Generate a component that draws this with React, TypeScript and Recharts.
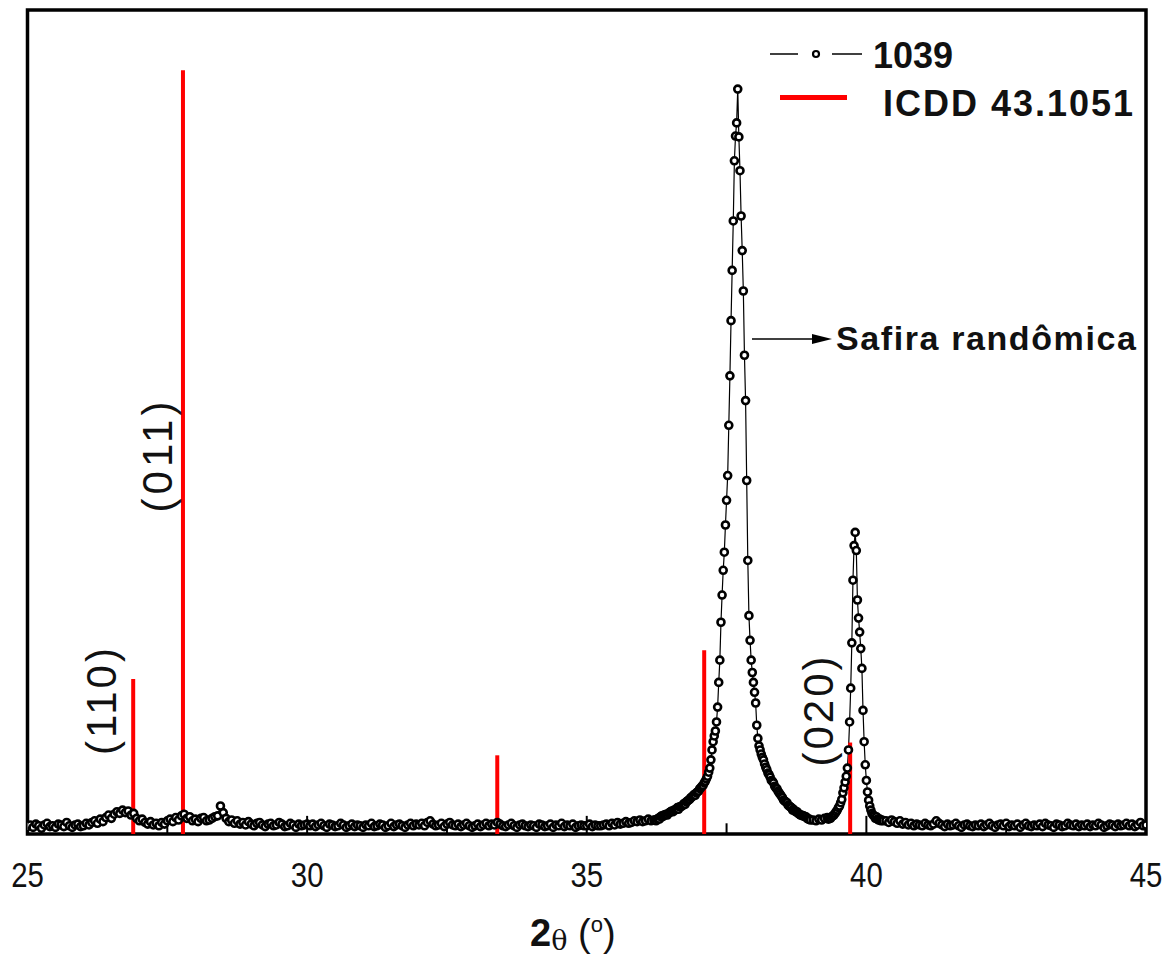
import React from 'react';
import { ComposedChart, Line, XAxis, YAxis, ReferenceLine, ReferenceArea } from 'recharts';

// ---- Sample 1039 diffractogram (intensity in arbitrary units, 0-100) ----
// Segment A: 2θ 25.00 → 36.20, step 0.05
const segAStart = 25.0;
const segAStep = 0.05;
const segA = [
  0.9, 1.1, 0.8, 1.2, 1.0, 0.7, 1.1, 1.3, 0.9, 1.0, 0.8, 1.2, 1.1, 0.9, 1.4, 1.0, 0.8, 1.1, 1.2, 0.9,
  1.0, 1.3, 1.1, 1.4, 1.6, 1.3, 1.8, 1.5, 2.0, 2.3, 1.9, 2.4, 2.7, 2.5, 2.9, 2.6, 2.8, 2.3, 2.5, 1.9,
  1.6, 1.8, 1.4, 1.2, 1.5, 1.1, 1.3, 1.0, 1.4, 1.2, 1.6, 1.8, 1.5, 2.0, 1.7, 2.2, 2.4, 1.9, 2.1, 1.6,
  1.8, 1.5, 1.9, 2.0, 1.6, 1.7, 1.9, 2.1, 2.2, 3.4, 2.6, 1.9, 1.5, 1.7, 1.3, 1.6, 1.2, 1.4, 1.1, 1.5,
  1.2, 1.0, 1.3, 1.4, 1.1, 0.9, 1.2, 1.3, 1.0, 1.1, 1.4, 1.2, 0.9, 1.0, 1.3, 1.1, 0.8, 1.2, 1.0, 1.1,
  1.2, 1.0, 1.2, 0.9, 1.1, 1.3, 1.0, 0.8, 1.2, 1.1, 0.9, 1.0, 1.3, 1.1, 0.8, 1.0, 1.2, 0.9, 1.1, 1.0,
  0.8, 1.1, 1.0, 1.3, 0.9, 1.0, 1.2, 1.1, 0.8, 1.0, 1.3, 0.9, 1.1, 1.2, 1.0, 0.8, 1.1, 1.3, 1.0, 1.2,
  1.1, 1.3, 1.0, 1.4, 1.6, 1.2, 1.0, 1.1, 1.3, 0.9, 1.2, 1.4, 1.1, 1.0, 1.2, 0.9, 1.1, 1.3, 1.0, 0.8,
  1.0, 1.2, 0.9, 1.1, 1.3, 1.0, 1.2, 1.1, 1.4, 1.2, 1.0, 0.9, 1.1, 1.3, 1.0, 0.8, 1.1, 1.2, 1.0, 0.9,
  1.1, 1.0, 0.8, 1.2, 1.1, 0.9, 1.0, 1.2, 0.8, 1.1, 1.0, 1.3, 0.9, 1.1, 1.0, 1.2, 0.8, 1.0, 1.1, 1.0,
  1.0, 1.2, 0.9, 1.1, 1.0, 1.0, 1.1, 1.2, 1.0, 1.3, 1.1, 1.4, 1.2, 1.3, 1.5, 1.3, 1.4, 1.6, 1.5, 1.7,
  1.5, 1.6, 1.8, 1.6, 1.7,
];

// Segment B: 2θ 36.22 → 39.00, step 0.02 (main peak)
const segBStart = 36.22;
const segBStep = 0.02;
const segB = [
  1.7, 1.6, 1.8, 1.9, 1.8, 2.1, 2.2, 2.1, 2.3, 2.3, 2.4, 2.3, 2.5, 2.6, 2.7, 2.8, 2.7, 2.9, 2.9, 3.0,
  3.2, 3.0, 3.3, 3.3, 3.4, 3.5, 3.7, 3.6, 3.9, 4.0, 4.1, 4.2, 4.4, 4.5, 4.6, 4.8, 4.7, 5.0, 5.1, 5.2,
  5.5, 5.6, 5.8, 5.9, 6.2, 6.4, 6.7, 7.0, 7.5, 8.0, 9.0, 10.2, 11.2, 11.9, 12.5, 13.6, 15.4, 18.4, 21.1, 25.7,
  29.0, 32.0, 34.2, 37.5, 40.5, 43.5, 49.6, 55.6, 62.3, 68.4, 74.4, 81.7, 84.7, 86.3, 90.4, 84.6, 80.5, 75.0, 70.8, 65.9,
  58.1, 52.6, 42.9, 33.2, 26.5, 23.5, 21.1, 19.6, 18.4, 17.2, 15.9, 13.2, 11.6, 10.7, 10.2, 9.7, 9.3, 9.0, 8.5, 8.1,
  7.8, 7.4, 7.2, 6.9, 6.5, 6.4, 6.2, 5.8, 5.6, 5.5, 5.2, 5.0, 4.8, 4.6, 4.4, 4.1, 4.0, 3.9, 3.8, 3.5,
  3.4, 3.3, 3.2, 2.9, 3.0, 2.8, 2.7, 2.7, 2.5, 2.4, 2.3, 2.3, 2.2, 2.2, 2.1, 2.1, 1.9, 1.8, 1.8, 1.7,
];

// Segment C: 2θ 39.05 → 39.30, step 0.05
const segCStart = 39.05;
const segCStep = 0.05;
const segC = [1.7, 1.6, 1.8, 1.7, 1.9, 2.0];

// Segment D: 2θ 39.32 → 40.30, step 0.02 (second peak)
const segDStart = 39.32;
const segDStep = 0.02;
const segD = [
  1.8, 1.9, 1.9, 2.1, 2.2, 2.3, 2.5, 2.7, 2.9, 3.2,
  3.4, 3.8, 4.2, 5.0, 5.6, 6.3, 7.0, 8.0, 10.2, 13.6,
  17.7, 23.2, 30.8, 35.0, 36.6, 34.4, 28.4, 26.2, 24.5, 22.5,
  20.1, 15.0, 11.2, 8.4, 6.5, 5.1, 4.1, 3.4, 2.9, 2.5,
  2.3, 2.2, 1.9, 2.1, 1.8, 1.7, 1.8, 1.6, 1.7, 1.6,
];

// Segment E: 2θ 40.35 → 45.00, step 0.05
const segEStart = 40.35;
const segEStep = 0.05;
const segE = [
  1.6, 1.4, 1.7, 1.5, 1.3, 1.6, 1.2, 1.4, 1.1, 1.3, 1.0, 1.2, 1.1,
  1.0, 1.3, 1.1, 1.0, 1.2, 1.6, 1.3, 1.1, 0.9, 1.2, 1.0, 1.1, 1.3, 1.0, 0.8, 1.1, 1.2, 1.0, 0.9, 1.1,
  1.0, 1.2, 0.9, 1.1, 1.3, 1.0, 0.8, 1.1, 1.2, 1.0, 1.3, 0.9, 1.1, 1.0, 1.2, 0.8, 1.1, 1.3, 1.0, 0.9,
  1.1, 1.0, 1.2, 0.9, 1.3, 1.1, 1.0, 0.8, 1.2, 1.1, 0.9, 1.0, 1.3, 1.1, 1.0, 1.2, 0.9, 1.1, 1.0, 1.2,
  0.9, 1.1, 1.0, 1.3, 1.1, 0.8, 1.0, 1.2, 1.1, 0.9, 1.2, 1.0, 1.1, 1.3, 1.0, 1.2, 0.9, 1.1, 1.4, 1.0,
  1.1,
];

// ---- ICDD 43.1051 reference reflections ----
const icddPositions = [26.89, 27.78, 33.4, 37.1, 39.71];
const icddIntensities = [18.8, 92.7, 9.55, 22.3, 11.1];

// ---- Axis ----
const xTicks = [25, 30, 35, 40, 45];
const majorInnerTicks = [30, 35, 40];
const minorInnerTicks = [27.5, 32.5, 37.5, 42.5];

const segments = [
  { start: segAStart, step: segAStep, ys: segA },
  { start: segBStart, step: segBStep, ys: segB },
  { start: segCStart, step: segCStep, ys: segC },
  { start: segDStart, step: segDStep, ys: segD },
  { start: segEStart, step: segEStep, ys: segE },
];

const data: { x: number; y: number }[] = [];
segments.forEach((s) => {
  s.ys.forEach((y, i) => {
    data.push({ x: Math.round((s.start + i * s.step) * 1000) / 1000, y });
  });
});

const SANS = "'Liberation Sans', Arial, sans-serif";

const XTick = (props: any) => {
  const { x, y, payload } = props;
  return (
    <text
      transform={`translate(${x},${y + 53}) scale(0.84,1)`}
      textAnchor="middle"
      fontFamily={SANS}
      fontSize={35}
      fill="#111"
    >
      {payload.value}
    </text>
  );
};

export default function App() {
  return (
    <div style={{ position: 'absolute', left: 0, top: 0, width: 1173, height: 958, background: '#fff' }}>
      <ComposedChart
        width={1173}
        height={958}
        data={data}
        margin={{ top: 10, right: 27, bottom: 64, left: 27.5 }}
      >
        <XAxis
          dataKey="x"
          type="number"
          domain={[25, 45]}
          ticks={xTicks}
          allowDataOverflow
          height={60}
          tickSize={0}
          tickMargin={0}
          tickLine={false}
          axisLine={false}
          tick={<XTick />}
          interval={0}
        />
        <YAxis type="number" domain={[0, 100]} width={0} tick={false} tickLine={false} axisLine={false} />
        <ReferenceArea x1={25} x2={45} y1={0} y2={100} fill="none" stroke="#000" strokeWidth={3.5} ifOverflow="visible" />
        <Line
          dataKey="y"
          type="linear"
          stroke="#000"
          strokeWidth={1.2}
          dot={{ r: 3.5, fill: '#fff', stroke: '#000', strokeWidth: 2.6 }}
          isAnimationActive={false}
        />
        {majorInnerTicks.map((t) => (
          <ReferenceLine key={'M' + t} segment={[{ x: t, y: 0 }, { x: t, y: 2.2 }]} stroke="#000" strokeWidth={2} />
        ))}
        {minorInnerTicks.map((t) => (
          <ReferenceLine key={'m' + t} segment={[{ x: t, y: 0 }, { x: t, y: 1.3 }]} stroke="#000" strokeWidth={2} />
        ))}
        {icddPositions.map((p, i) => (
          <ReferenceLine
            key={'r' + p}
            segment={[{ x: p, y: 0 }, { x: p, y: icddIntensities[i] }]}
            stroke="#ff0000"
            strokeWidth={4}
          />
        ))}
      </ComposedChart>
      <svg
        width={1173}
        height={958}
        style={{ position: 'absolute', left: 0, top: 0, pointerEvents: 'none' }}
      >
        {/* legend */}
        <line x1={770} y1={54} x2={798} y2={54} stroke="#000" strokeWidth={1.5} />
        <circle cx={816} cy={54} r={3} fill="#fff" stroke="#000" strokeWidth={2.2} />
        <line x1={832} y1={54} x2={862} y2={54} stroke="#000" strokeWidth={1.5} />
        <text x={873} y={68} fontFamily={SANS} fontWeight="bold" fontSize={36} fill="#111">1039</text>
        <line x1={780} y1={97.5} x2={847} y2={97.5} stroke="#ff0000" strokeWidth={5} />
        <text x={883} y={116} fontFamily={SANS} fontWeight="bold" fontSize={36} letterSpacing={2} fill="#111">
          ICDD 43.1051
        </text>
        {/* annotation arrow */}
        <line x1={752} y1={339} x2={815} y2={339} stroke="#000" strokeWidth={1.5} />
        <polygon points="812,334 832,339 812,344" fill="#000" />
        <text x={836} y={350} fontFamily={SANS} fontWeight="bold" fontSize={34} letterSpacing={1.6} fill="#111">
          Safira randômica
        </text>
        {/* Miller indices */}
        <text x={157} y={455} transform="rotate(-90 157 455)" textAnchor="middle" dominantBaseline="central"
          fontFamily={SANS} fontSize={42} letterSpacing={4} fill="#111">(011)</text>
        <text x={101} y={700} transform="rotate(-90 101 700)" textAnchor="middle" dominantBaseline="central"
          fontFamily={SANS} fontSize={42} letterSpacing={3} fill="#111">(110)</text>
        <text x={818} y={710} transform="rotate(-90 818 710)" textAnchor="middle" dominantBaseline="central"
          fontFamily={SANS} fontSize={42} letterSpacing={3} fill="#111">(020)</text>
        {/* axis title */}
        <text x={530} y={946} fontFamily={SANS} fontSize={38} fill="#111">
          <tspan fontWeight="bold">2</tspan>
          <tspan fontFamily="'DejaVu Serif', serif" fontSize={27} dy={4}>θ</tspan>
          <tspan dy={-4}> (</tspan>
          <tspan fontSize={22} dy={-14}>o</tspan>
          <tspan dy={14}>)</tspan>
        </text>
      </svg>
    </div>
  );
}
